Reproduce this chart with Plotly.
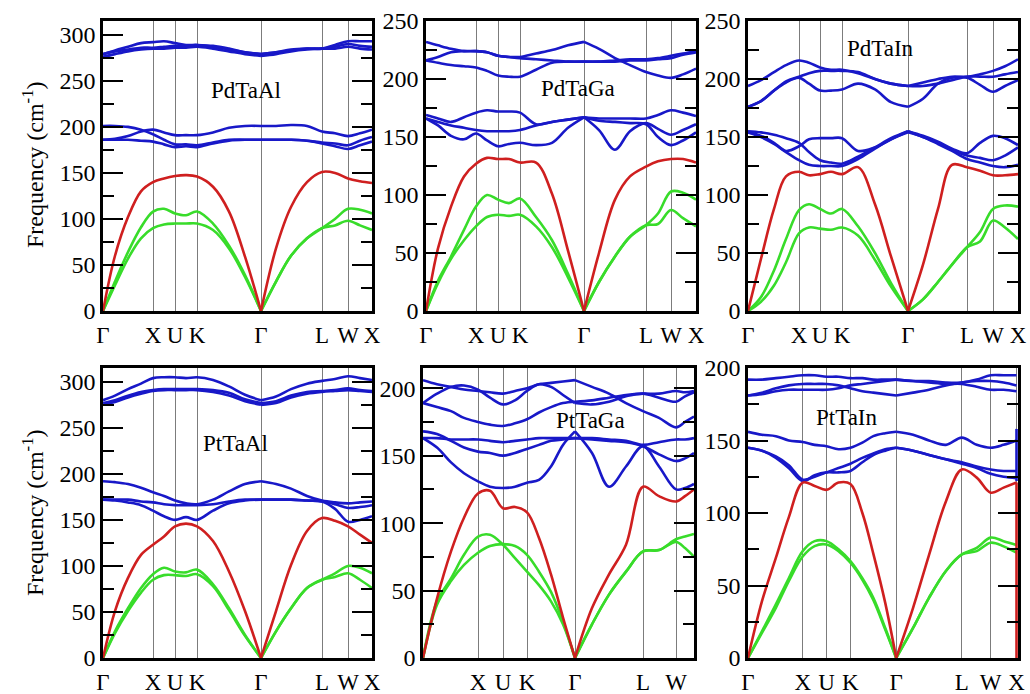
import plotly.graph_objects as go

# ---------------- k-path sample positions (path distance, arbitrary units) ----------------
K_PDTAAL = [0, 12, 25, 38, 50, 61, 72, 83, 94, 110, 126, 142, 158, 173, 188, 204, 219, 232, 245, 257, 269]
K_PDTAGA = [0, 12, 25, 38, 50, 61, 72, 83, 94, 110, 126, 142, 158, 173, 189, 204, 220, 232, 245, 257, 270]
K_PDTAIN = [0, 13, 26, 38, 51, 61, 72, 83, 94, 110, 127, 143, 160, 175, 190, 204, 219, 232, 245, 257, 270]
K_PTTAAL = [0, 12, 25, 38, 50, 61, 72, 83, 94, 110, 126, 142, 158, 173, 188, 204, 219, 232, 245, 257, 269]
K_PTTAGA = [0, 14, 28, 41, 55, 67, 80, 92, 104, 116, 128, 140, 152, 169, 186, 203, 220, 236, 253, 262, 271]
K_PTTAIN = [0, 14, 28, 41, 55, 67, 79, 91, 103, 115, 126, 138, 149, 166, 182, 199, 215, 230, 244, 257, 270]

# high-symmetry points (tick positions) and labels
HS_PDTAAL = [0, 50, 72, 94, 158, 219, 245, 269]
HS_PDTAGA = [0, 50, 72, 94, 158, 220, 245, 270]
HS_PDTAIN = [0, 51, 72, 94, 160, 219, 245, 270]
HS_PTTAAL = [0, 50, 72, 94, 158, 219, 245, 269]
HS_PTTAGA = [55, 80, 104, 152, 220, 253]
HS_PTTAIN = [0, 55, 79, 103, 149, 215, 244, 270]
LBL_FULL = ["Γ", "X", "U", "K", "Γ", "L", "W", "X"]
LBL_PTTAGA = ["X", "U", "K", "Γ", "L", "W"]

# ---------------- frequencies (cm^-1) ----------------
# PdTaAl
PdTaAl_TA1 = [0, 28, 57, 79, 90, 94, 95, 95, 95, 88, 68, 37, 0, 32, 60, 79, 90, 93, 98, 93, 88]
PdTaAl_TA2 = [0, 32, 64, 91, 108, 111, 106, 104, 108, 95, 71, 39, 0, 32, 60, 79, 90, 100, 111, 110, 106]
PdTaAl_LA = [0, 60, 102, 130, 140, 144, 146.6, 147.6, 146, 135, 108, 59, 0, 68, 113, 140, 151, 150, 144, 141, 139]
PdTaAl_O1 = [186, 186, 186, 185, 184, 181, 178, 179, 178, 182, 185, 186, 186, 186, 186, 185, 182, 179, 176, 180, 184]
PdTaAl_O2 = [201, 201, 200, 197, 192, 186, 181, 181, 180, 183, 186, 186, 186, 186, 186, 185, 183, 182, 180, 185, 189]
PdTaAl_O3 = [186, 187, 190, 195, 197, 194, 191, 191, 191, 194, 199, 201, 201, 201, 202, 201, 195, 193, 190, 193, 197]
PdTaAl_O4 = [276, 279, 282, 284, 285, 285, 286, 286, 287, 285, 282, 279, 277, 279, 282, 284, 285, 285, 287, 285, 284]
PdTaAl_O5 = [279, 282, 284, 286, 286, 287, 288, 288, 289, 287, 284, 281, 279, 281, 283, 285, 285, 287, 290, 288, 287]
PdTaAl_O6 = [279, 283, 287, 291, 292, 293, 291, 289, 289, 288, 285, 281, 279, 281, 284, 285, 285, 289, 293, 293, 293]

# PdTaGa
PdTaGa_TA1 = [0, 24, 45, 61, 73, 81, 83, 82, 83, 73, 55, 29, 0, 25, 47, 64, 74, 75, 87, 80, 73]
PdTaGa_TA2 = [0, 26, 47, 70, 90, 100, 96, 93, 97, 81, 61, 32, 0, 25, 47, 64, 74, 84, 103, 102, 96]
PdTaGa_LA = [0, 54, 90, 116, 127, 132, 131, 131, 128, 128, 101, 52, 0, 50, 96, 116, 124.5, 129, 131, 131, 128]
PdTaGa_O1 = [166, 160, 151, 148, 153, 147, 142, 144, 145, 143, 145, 158, 167, 164, 163, 162, 161, 150, 143, 147, 154]
PdTaGa_O2 = [166, 163, 160, 158, 156, 155, 155, 155, 156, 160, 163, 165, 167, 156, 139, 155, 162, 157, 152, 156, 161]
PdTaGa_O3 = [169, 166, 163, 167, 171, 173, 172, 172, 171, 161, 163, 165, 167, 166, 166, 166, 166, 169, 173, 171, 168]
PdTaGa_O4 = [216, 214, 212, 211, 210, 207, 203, 202, 202, 208, 214, 215, 215, 215, 215, 216, 216, 217, 218, 221, 223]
PdTaGa_O5 = [216, 219, 223, 224, 224, 223, 220, 219, 218, 217, 216, 215, 215, 215, 216, 217, 217, 218, 220, 222, 224]
PdTaGa_O6 = [232, 229, 226, 224, 224, 223, 220, 219, 219, 222, 225, 229, 232, 226, 218, 212, 206, 203, 201, 204, 209]

# PdTaIn
PdTaIn_TA1 = [0, 8, 22, 42, 67, 72, 71, 70, 72, 65, 44, 21, 0, 10, 25, 40, 55, 60, 78, 72, 62]
PdTaIn_TA2 = [0, 12, 35, 62, 87, 92, 88, 84, 88, 73, 50, 24, 0, 10, 25, 40, 55, 68, 88, 91, 90]
PdTaIn_LA = [0, 45, 88, 116, 120, 117, 118, 120, 118, 124, 92, 47, 0, 40, 88, 126, 124, 121, 117, 117, 118]
PdTaIn_O1 = [154, 150, 144, 137, 130, 126, 125, 125, 125, 131, 140, 148, 154, 150, 144, 138, 131, 128, 125, 124, 126]
PdTaIn_O2 = [154, 151, 145, 138, 142, 148, 149, 149, 149, 138, 141, 148, 155, 150, 145, 139, 134, 132, 130, 134, 141]
PdTaIn_O3 = [155, 154, 152, 149, 145, 137, 130, 128, 127, 133, 141, 149, 155, 151, 146, 140, 136, 145, 151, 149, 143]
PdTaIn_O4 = [176, 181, 190, 197, 201, 196, 190, 190, 191, 196, 191, 180, 176, 183, 196, 201, 201, 195, 189, 194, 199]
PdTaIn_O5 = [176, 181, 190, 198, 202, 205, 207, 207, 207, 206, 200, 196, 194, 194, 196, 199, 202, 202, 202, 204, 206]
PdTaIn_O6 = [194, 199, 206, 212, 216, 214, 210, 208, 208, 205, 200, 196, 194, 197, 200, 202, 202, 204, 207, 211, 217]

# PtTaAl
PtTaAl_TA1 = [0, 27, 51, 71, 85, 90, 90, 89, 91, 78, 52, 24, 0, 29, 54, 76, 85, 88, 92, 85, 76]
PtTaAl_TA2 = [0, 29, 54, 76, 91, 98, 94, 93, 96, 80, 54, 25, 0, 29, 54, 76, 85, 92, 100, 98, 92]
PtTaAl_LA = [0, 51, 87, 112, 123, 132, 143, 146, 143, 127, 94, 51, 0, 51, 101, 138, 152, 149, 143, 134, 125]
PtTaAl_O1 = [172, 171, 169, 166, 160, 154, 150, 153, 150, 160, 168, 171, 172, 172, 172, 171, 170, 162, 148, 150, 154]
PtTaAl_O2 = [172, 172, 172, 170, 169, 167, 166, 166, 166, 167, 170, 172, 172, 172, 172, 171, 170, 167, 163, 164, 166]
PtTaAl_O3 = [192, 191, 189, 185, 180, 176, 171, 168, 167, 172, 181, 189, 192, 189, 184, 176, 171, 169, 168, 169, 170]
PtTaAl_O4 = [275, 278, 283, 287, 290, 291, 291, 291, 291, 289, 285, 279, 275, 277, 283, 287, 289, 290, 291, 290, 289]
PtTaAl_O5 = [277, 280, 285, 289, 291, 292, 292, 292, 292, 291, 288, 281, 277, 279, 285, 289, 290, 291, 293, 291, 290]
PtTaAl_O6 = [280, 285, 292, 298, 304, 305, 305, 304, 305, 302, 295, 286, 280, 284, 292, 298, 301, 303, 306, 304, 302]

# PtTaGa
PtTaGa_TA1 = [0, 39.5, 57, 69, 78, 83, 84.4, 83, 76.5, 64, 49, 27, 0, 25, 47, 64, 79, 80, 86, 81.5, 75]
PtTaGa_TA2 = [0, 42, 59, 76.5, 90, 91.4, 84, 74, 64, 54, 42, 25, 0, 25, 47, 64, 79, 80, 88, 90, 92]
PtTaGa_LA = [0, 44, 79, 104, 122, 124, 111, 112, 108, 89, 62, 30, 0, 37, 62, 84, 127, 120, 116, 120, 125]
PtTaGa_O1 = [163, 156, 145, 137, 131, 127, 126, 127, 130, 132, 142, 158, 168, 152, 127, 142, 157, 142, 125, 126, 129]
PtTaGa_O2 = [168, 166, 161, 156, 153, 152, 150, 152, 155, 158, 161, 162, 163, 162, 161, 160, 157, 151, 146, 148, 152]
PtTaGa_O3 = [163, 163, 162, 162, 162, 161, 160, 161, 162, 163, 163, 163, 163, 163, 162, 161, 158, 160, 162, 162, 163]
PtTaGa_O4 = [189, 186, 183, 178, 175, 173, 172, 174, 177, 182, 186, 189, 190, 191, 193, 195, 196, 196, 198, 197, 198]
PtTaGa_O5 = [189, 196, 201, 202, 199, 193, 188, 191, 198, 203, 201, 195, 189, 188, 190, 194, 196, 193, 190, 194, 197]
PtTaGa_O6 = [206, 203, 201, 199, 198, 197, 196, 198, 200, 203, 204, 205, 206, 201, 196, 189, 183, 178, 171, 175, 179]

# PtTaIn
PtTaIn_TA1 = [0, 17.3, 34.6, 53, 70, 77.2, 78.3, 73.7, 65.7, 54, 40, 19.6, 0, 20.7, 41.5, 60, 71.4, 73.7, 79.5, 77, 72.6]
PtTaIn_TA2 = [0, 18.4, 37, 55, 73.7, 80.6, 80.6, 75, 66.8, 55, 41.5, 20.7, 0, 20.7, 41.5, 60, 71.4, 76, 83, 80.6, 78]
PtTaIn_LA = [0, 39, 69, 97, 121, 118.7, 116, 121, 120, 100, 72, 38, 0, 34.6, 71, 108, 130, 124.4, 114, 117.5, 121]
PtTaIn_O1 = [145, 143, 138, 131, 122, 126, 128, 128, 129, 135, 140, 143, 145, 143, 140, 137, 134, 131, 127, 125, 124]
PtTaIn_O2 = [145, 143, 139, 133, 123, 125, 128, 131, 134, 138, 141, 144, 145, 143, 140, 137, 135, 132, 130, 129, 129]
PtTaIn_O3 = [156, 154, 153, 150, 149, 147, 146, 144, 145, 148.5, 153, 155, 156, 154, 150, 147, 152, 147, 145, 147, 150]
PtTaIn_O4 = [181, 182, 184, 185, 185, 185, 185, 186, 188, 189, 190, 191, 192, 191, 190, 189, 189, 187, 185, 185, 184]
PtTaIn_O5 = [181, 183, 186, 188, 189, 189, 189, 188, 186, 184, 183, 182, 181, 183, 185, 188, 190, 191, 191, 190, 188]
PtTaIn_O6 = [192, 192, 193, 194, 195, 195, 194, 194, 193, 193, 192, 192, 192, 191, 191, 190, 190, 192, 195, 195, 195]
# closing segments drawn at the final X point of PtTaIn
PtTaIn_END_RED = [121, 0]
PtTaIn_END_BLUE = [158, 122]

BLUE = "#1818c8"
RED = "#cf1f1f"
GREEN = "#38dc2a"
SERIF = "Liberation Serif"

panels = [
    dict(name="PdTaAl", k=K_PDTAAL, hs=HS_PDTAAL, lbl=LBL_FULL, ymax=315, xmax=269,
         opt=[PdTaAl_O1, PdTaAl_O2, PdTaAl_O3, PdTaAl_O4, PdTaAl_O5, PdTaAl_O6],
         ta=[PdTaAl_TA1, PdTaAl_TA2], la=PdTaAl_LA,
         dom=([103, 372], [21, 311]), lab=(143, 239)),
    dict(name="PdTaGa", k=K_PDTAGA, hs=HS_PDTAGA, lbl=LBL_FULL, ymax=250, xmax=270,
         opt=[PdTaGa_O1, PdTaGa_O2, PdTaGa_O3, PdTaGa_O4, PdTaGa_O5, PdTaGa_O6],
         ta=[PdTaGa_TA1, PdTaGa_TA2], la=PdTaGa_LA,
         dom=([426, 696], [21, 311]), lab=(152, 192)),
    dict(name="PdTaIn", k=K_PDTAIN, hs=HS_PDTAIN, lbl=LBL_FULL, ymax=250, xmax=270,
         opt=[PdTaIn_O1, PdTaIn_O2, PdTaIn_O3, PdTaIn_O4, PdTaIn_O5, PdTaIn_O6],
         ta=[PdTaIn_TA1, PdTaIn_TA2], la=PdTaIn_LA,
         dom=([748, 1018], [21, 311]), lab=(132, 226)),
    dict(name="PtTaAl", k=K_PTTAAL, hs=HS_PTTAAL, lbl=LBL_FULL, ymax=315, xmax=269,
         opt=[PtTaAl_O1, PtTaAl_O2, PtTaAl_O3, PtTaAl_O4, PtTaAl_O5, PtTaAl_O6],
         ta=[PtTaAl_TA1, PtTaAl_TA2], la=PtTaAl_LA,
         dom=([103, 372], [368, 658]), lab=(132, 233)),
    dict(name="PtTaGa", k=K_PTTAGA, hs=HS_PTTAGA, lbl=LBL_PTTAGA, ymax=215, xmax=271,
         opt=[PtTaGa_O1, PtTaGa_O2, PtTaGa_O3, PtTaGa_O4, PtTaGa_O5, PtTaGa_O6],
         ta=[PtTaGa_TA1, PtTaGa_TA2], la=PtTaGa_LA,
         dom=([423, 694], [368, 658]), lab=(167, 176)),
    dict(name="PtTaIn", k=K_PTTAIN, hs=HS_PTTAIN, lbl=LBL_FULL, ymax=200, xmax=271.5,
         opt=[PtTaIn_O1, PtTaIn_O2, PtTaIn_O3, PtTaIn_O4, PtTaIn_O5, PtTaIn_O6],
         ta=[PtTaIn_TA1, PtTaIn_TA2], la=PtTaIn_LA,
         dom=([748, 1018], [368, 658]), lab=(99, 166)),
]

W, H = 1030, 694
fig = go.Figure()
MID = 12  # index of the central Gamma point


def add_branch(k, y, color, xa, ya):
    for xs, ys in ((k[:MID + 1], y[:MID + 1]), (k[MID:], y[MID:])):
        fig.add_trace(go.Scatter(x=xs, y=ys, mode="lines", xaxis=xa, yaxis=ya,
                                 line=dict(color=color, width=2.6, shape="spline", smoothing=1.0),
                                 showlegend=False, hoverinfo="skip"))


layout_axes = {}
annotations = []
for i, p in enumerate(panels, start=1):
    xa = "x" if i == 1 else f"x{i}"
    ya = "y" if i == 1 else f"y{i}"
    for b in p["opt"]:
        add_branch(p["k"], b, BLUE, xa, ya)
    for b in p["ta"]:
        add_branch(p["k"], b, GREEN, xa, ya)
    add_branch(p["k"], p["la"], RED, xa, ya)
    if p["name"] == "PtTaIn":
        xe = [p["k"][-1], p["k"][-1]]
        fig.add_trace(go.Scatter(x=xe, y=PtTaIn_END_BLUE, mode="lines", xaxis=xa, yaxis=ya,
                                 line=dict(color=BLUE, width=2.6), showlegend=False, hoverinfo="skip"))
        fig.add_trace(go.Scatter(x=xe, y=PtTaIn_END_RED, mode="lines", xaxis=xa, yaxis=ya,
                                 line=dict(color=RED, width=2.6), showlegend=False, hoverinfo="skip"))

    (x0, x1), (y0, y1) = p["dom"]
    xkey = "xaxis" if i == 1 else f"xaxis{i}"
    ykey = "yaxis" if i == 1 else f"yaxis{i}"
    layout_axes[xkey] = dict(
        domain=[x0 / W, x1 / W], range=[0, p["xmax"]], anchor=ya, automargin=False,
        showline=True, linewidth=2.6, linecolor="black", mirror=True,
        tickmode="array", tickvals=p["hs"], ticktext=p["lbl"], tickangle=0,
        ticks="outside", ticklen=2, tickcolor="rgba(0,0,0,0)",
        showgrid=True, gridcolor="#7c7c7c", gridwidth=1.2, zeroline=False,
        tickfont=dict(family=SERIF, size=23, color="black"), fixedrange=True)
    layout_axes[ykey] = dict(
        domain=[1 - y1 / H, 1 - y0 / H], range=[0, p["ymax"]], anchor=xa, automargin=False,
        showline=True, linewidth=2.6, linecolor="black", mirror="allticks",
        tick0=0, dtick=50, ticks="inside", ticklen=20, tickwidth=1.6, tickcolor="black",
        minor=dict(dtick=25, ticks="inside", ticklen=11, tickwidth=1.6, tickcolor="black", showgrid=False),
        showgrid=False, zeroline=False,
        tickfont=dict(family=SERIF, size=24, color="black"), fixedrange=True)
    annotations.append(dict(text=p["name"], x=p["lab"][0], y=p["lab"][1], xref=xa, yref=ya,
                            showarrow=False, font=dict(family=SERIF, size=23, color="black")))

for yc in (165, 513):
    annotations.append(dict(text="Frequency (cm<sup>-1</sup>)", x=33 / W, y=1 - yc / H,
                            xref="paper", yref="paper", xanchor="center", yanchor="middle",
                            textangle=-90, showarrow=False,
                            font=dict(family=SERIF, size=24, color="black")))

fig.update_layout(width=W, height=H, autosize=False,
                  margin=dict(l=0, r=0, t=0, b=0, pad=0),
                  paper_bgcolor="white", plot_bgcolor="white",
                  annotations=annotations, **layout_axes)

fig.write_html("out.html")
